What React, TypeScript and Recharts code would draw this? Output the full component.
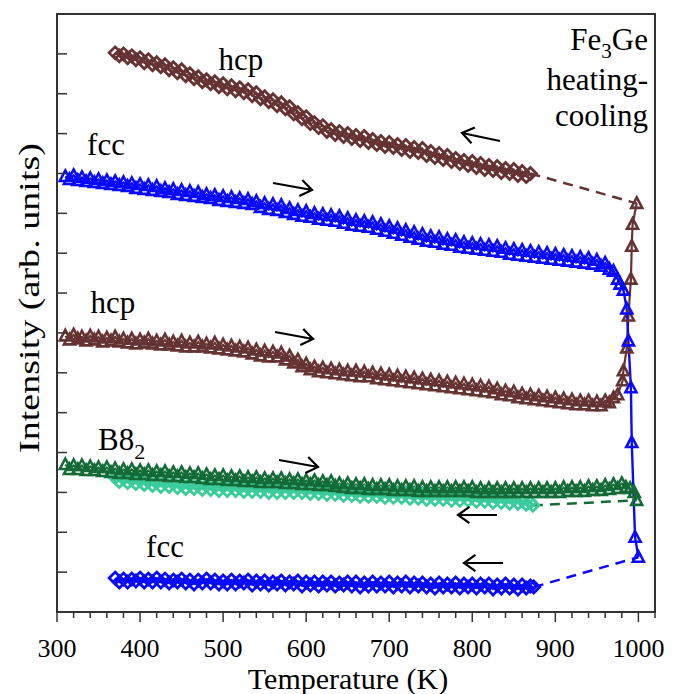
import React from "react";
import { LineChart, Line, XAxis, YAxis, ReferenceArea } from "recharts";

// Fe3Ge heating/cooling, intensity (arb. units) vs temperature (K)
// each entry is [temperature, intensity]

// hcp, cooling (brown diamonds)
const hcpCooling: [number, number][] = [
  [370, 561], [375, 558], [380, 560], [385, 556], [390, 558], [395, 554], [400, 556], [405, 551], [410, 554], [415, 549],
  [420, 551], [425, 547], [430, 549], [435, 544], [440, 546], [445, 541], [450, 544], [455, 538], [460, 540], [465, 535],
  [470, 537], [475, 532], [480, 534], [485, 530], [490, 532], [495, 527], [500, 530], [505, 525], [510, 528], [515, 523],
  [520, 526], [525, 521], [530, 524], [535, 518], [540, 521], [545, 515], [550, 517], [555, 512], [560, 514], [565, 508],
  [570, 511], [575, 505], [580, 507], [585, 500], [590, 501], [595, 495], [600, 497], [605, 490], [610, 491], [615, 486],
  [620, 488], [625, 482], [630, 484], [635, 479], [640, 482], [645, 477], [650, 480], [655, 475], [660, 478], [665, 473],
  [670, 477], [675, 471], [680, 474], [685, 469], [690, 472], [695, 467], [700, 471], [705, 466], [710, 469], [715, 464],
  [720, 468], [725, 462], [730, 466], [735, 461], [740, 465], [745, 458], [750, 462], [755, 456], [760, 460], [765, 454],
  [770, 458], [775, 452], [780, 455], [785, 450], [790, 453], [795, 448], [800, 452], [805, 446], [810, 450], [815, 444],
  [820, 448], [825, 443], [830, 447], [835, 441], [840, 445], [845, 440], [850, 444], [855, 438], [860, 442], [865, 437],
  [870, 440],
];

// fcc, heating (blue triangles)
const fccHeating: [number, number][] = [
  [310, 437], [315, 434], [320, 438], [325, 433], [330, 436], [335, 432], [340, 435], [345, 431], [350, 434], [355, 430],
  [360, 433], [365, 429], [370, 432], [375, 428], [380, 431], [385, 427], [390, 430], [395, 425], [400, 429], [405, 424],
  [410, 428], [415, 423], [420, 427], [425, 422], [430, 425], [435, 421], [440, 424], [445, 419], [450, 423], [455, 418],
  [460, 422], [465, 417], [470, 421], [475, 416], [480, 419], [485, 415], [490, 418], [495, 413], [500, 417], [505, 412],
  [510, 416], [515, 411], [520, 415], [525, 410], [530, 414], [535, 409], [540, 412], [545, 406], [550, 410], [555, 404],
  [560, 409], [565, 403], [570, 408], [575, 401], [580, 405], [585, 399], [590, 403], [595, 397], [600, 402], [605, 396],
  [610, 400], [615, 394], [620, 399], [625, 393], [630, 398], [635, 392], [640, 397], [645, 390], [650, 395], [655, 388],
  [660, 393], [665, 387], [670, 392], [675, 386], [680, 391], [685, 384], [690, 389], [695, 382], [700, 387], [705, 380],
  [710, 385], [715, 378], [720, 383], [725, 376], [730, 381], [735, 374], [740, 379], [745, 372], [750, 377], [755, 371],
  [760, 376], [765, 369], [770, 374], [775, 368], [780, 373], [785, 366], [790, 371], [795, 365], [800, 370], [805, 364],
  [810, 369], [815, 363], [820, 368], [825, 362], [830, 367], [835, 361], [840, 365], [845, 359], [850, 364], [855, 358],
  [860, 363], [865, 357], [870, 362], [875, 356], [880, 361], [885, 355], [890, 360], [895, 354], [900, 359], [905, 353],
  [910, 358], [915, 352], [920, 357], [925, 351], [930, 356], [935, 350], [940, 355], [945, 349], [950, 353], [955, 347],
  [960, 350], [965, 344], [970, 342], [975, 334], [978, 329], [982, 323], [986, 304], [988, 272], [991, 225], [992, 170],
  [996, 75], [1000, 55],
];

// hcp, heating (brown triangles)
const hcpHeating: [number, number][] = [
  [310, 277], [315, 273], [320, 278], [325, 274], [330, 276], [335, 272], [340, 277], [345, 273], [350, 276], [355, 271],
  [360, 275], [365, 272], [370, 276], [375, 271], [380, 274], [385, 270], [390, 274], [395, 269], [400, 273], [405, 270],
  [410, 274], [415, 269], [420, 272], [425, 268], [430, 273], [435, 268], [440, 271], [445, 267], [450, 272], [455, 266],
  [460, 270], [465, 266], [470, 271], [475, 266], [480, 269], [485, 265], [490, 270], [495, 264], [500, 268], [505, 263],
  [510, 267], [515, 262], [520, 266], [525, 261], [530, 265], [535, 259], [540, 263], [545, 257], [550, 262], [555, 256],
  [560, 261], [565, 256], [570, 260], [575, 253], [580, 257], [585, 250], [590, 253], [595, 246], [600, 249], [605, 243],
  [610, 246], [615, 241], [620, 245], [625, 240], [630, 244], [635, 239], [640, 243], [645, 238], [650, 242], [655, 237],
  [660, 242], [665, 236], [670, 241], [675, 236], [680, 240], [685, 234], [690, 239], [695, 233], [700, 238], [705, 232],
  [710, 237], [715, 231], [720, 236], [725, 230], [730, 235], [735, 229], [740, 234], [745, 228], [750, 233], [755, 227],
  [760, 232], [765, 226], [770, 231], [775, 225], [780, 230], [785, 224], [790, 229], [795, 223], [800, 228], [805, 222],
  [810, 227], [815, 221], [820, 226], [825, 220], [830, 224], [835, 218], [840, 222], [845, 217], [850, 221], [855, 215],
  [860, 219], [865, 214], [870, 218], [875, 213], [880, 217], [885, 212], [890, 216], [895, 211], [900, 215], [905, 210],
  [910, 214], [915, 209], [920, 213], [925, 208], [930, 212], [935, 208], [940, 212], [945, 207], [950, 211], [955, 207],
  [960, 212], [965, 210], [970, 215], [975, 218], [981, 232], [982, 242], [986, 265], [988, 297], [991, 334], [992, 367],
  [993, 389], [998, 410],
];

// B8_2, heating (dark green triangles)
const b82Heating: [number, number][] = [
  [310, 148], [315, 143], [320, 147], [325, 143], [330, 147], [335, 142], [340, 146], [345, 142], [350, 145], [355, 141],
  [360, 145], [365, 140], [370, 144], [375, 139], [380, 143], [385, 139], [390, 143], [395, 138], [400, 142], [405, 138],
  [410, 142], [415, 137], [420, 141], [425, 137], [430, 141], [435, 136], [440, 140], [445, 136], [450, 140], [455, 135],
  [460, 139], [465, 135], [470, 139], [475, 134], [480, 138], [485, 133], [490, 137], [495, 133], [500, 137], [505, 132],
  [510, 136], [515, 132], [520, 136], [525, 131], [530, 135], [535, 131], [540, 135], [545, 130], [550, 134], [555, 130],
  [560, 134], [565, 130], [570, 134], [575, 129], [580, 133], [585, 129], [590, 133], [595, 128], [600, 132], [605, 128],
  [610, 132], [615, 127], [620, 131], [625, 127], [630, 131], [635, 126], [640, 129], [645, 125], [650, 129], [655, 124],
  [660, 128], [665, 124], [670, 128], [675, 123], [680, 127], [685, 123], [690, 127], [695, 123], [700, 127], [705, 122],
  [710, 126], [715, 122], [720, 126], [725, 122], [730, 126], [735, 121], [740, 125], [745, 121], [750, 125], [755, 121],
  [760, 125], [765, 121], [770, 125], [775, 121], [780, 125], [785, 121], [790, 125], [795, 121], [800, 125], [805, 120],
  [810, 124], [815, 120], [820, 124], [825, 120], [830, 124], [835, 120], [840, 124], [845, 120], [850, 124], [855, 120],
  [860, 124], [865, 120], [870, 124], [875, 120], [880, 124], [885, 120], [890, 124], [895, 120], [900, 124], [905, 120],
  [910, 125], [915, 121], [920, 125], [925, 121], [930, 125], [935, 121], [940, 126], [945, 122], [950, 126], [955, 122],
  [960, 127], [965, 123], [970, 128], [975, 124], [980, 129], [985, 125], [990, 124], [995, 120], [998, 112],
];

// B8_2, cooling (light green diamonds)
const b82Cooling: [number, number][] = [
  [370, 135], [375, 131], [380, 134], [385, 130], [390, 133], [395, 129], [400, 132], [405, 128], [410, 131], [415, 127],
  [420, 130], [425, 126], [430, 130], [435, 126], [440, 129], [445, 125], [450, 128], [455, 124], [460, 128], [465, 124],
  [470, 127], [475, 123], [480, 127], [485, 123], [490, 126], [495, 122], [500, 126], [505, 122], [510, 126], [515, 122],
  [520, 125], [525, 121], [530, 125], [535, 121], [540, 125], [545, 121], [550, 125], [555, 120], [560, 124], [565, 120],
  [570, 124], [575, 120], [580, 124], [585, 120], [590, 124], [595, 120], [600, 123], [605, 119], [610, 123], [615, 119],
  [620, 122], [625, 118], [630, 122], [635, 118], [640, 121], [645, 117], [650, 121], [655, 117], [660, 120], [665, 116],
  [670, 120], [675, 116], [680, 120], [685, 116], [690, 119], [695, 115], [700, 119], [705, 115], [710, 119], [715, 115],
  [720, 119], [725, 114], [730, 118], [735, 114], [740, 118], [745, 113], [750, 117], [755, 113], [760, 117], [765, 113],
  [770, 117], [775, 112], [780, 116], [785, 112], [790, 116], [795, 112], [800, 116], [805, 111], [810, 115], [815, 111],
  [820, 115], [825, 110], [830, 114], [835, 110], [840, 114], [845, 109], [850, 113], [855, 109], [860, 112], [865, 108],
  [870, 110], [873, 107],
];

// fcc, cooling (blue diamonds)
const fccCooling: [number, number][] = [
  [370, 34], [375, 30], [380, 33], [385, 30], [390, 33], [395, 31], [400, 34], [405, 30], [410, 33], [415, 30],
  [420, 34], [425, 30], [430, 33], [435, 29], [440, 32], [445, 30], [450, 33], [455, 29], [460, 32], [465, 28],
  [470, 32], [475, 29], [480, 33], [485, 29], [490, 32], [495, 28], [500, 31], [505, 28], [510, 32], [515, 28],
  [520, 31], [525, 29], [530, 32], [535, 27], [540, 31], [545, 28], [550, 31], [555, 27], [560, 30], [565, 28],
  [570, 31], [575, 27], [580, 30], [585, 28], [590, 31], [595, 26], [600, 30], [605, 27], [610, 30], [615, 26],
  [620, 30], [625, 27], [630, 30], [635, 26], [640, 29], [645, 27], [650, 30], [655, 26], [660, 30], [665, 25],
  [670, 29], [675, 26], [680, 30], [685, 26], [690, 29], [695, 26], [700, 30], [705, 25], [710, 29], [715, 26],
  [720, 30], [725, 25], [730, 29], [735, 26], [740, 29], [745, 25], [750, 28], [755, 24], [760, 29], [765, 25],
  [770, 28], [775, 25], [780, 29], [785, 24], [790, 28], [795, 25], [800, 28], [805, 24], [810, 28], [815, 25],
  [820, 28], [825, 23], [830, 27], [835, 24], [840, 28], [845, 24], [850, 27], [855, 23], [860, 27], [865, 24],
  [870, 26], [874, 25],
];

const xLabels = [300, 400, 500, 600, 700, 800, 900, 1000];
const xTicks = [
  300, 320, 340, 360, 380, 400, 420, 440, 460, 480, 500, 520, 540, 560, 580, 600, 620, 640, 660, 680,
  700, 720, 740, 760, 780, 800, 820, 840, 860, 880, 900, 920, 940, 960, 980, 1000, 1020,
];
const yTicks = [40, 80, 120, 160, 200, 240, 280, 320, 360, 400, 440, 480, 520, 560];

const BROWN = "#663333";
const BLUE = "#0a0aff";
const DARK_GREEN = "#146b38";
const LIGHT_GREEN = "#3ccc9c";
const AXIS = "#333333";
const FONT = "'Liberation Serif', 'Times New Roman', serif";

const PLOT_LEFT = 57;
const PLOT_BOTTOM = 612;

const toPts = (arr: [number, number][]) => arr.map(([t, v]) => ({ t, v }));
const last = (arr: [number, number][]) => arr[arr.length - 1];

// dashed links from the end of each cooling run back to the last heating point
const hcpLink = toPts([last(hcpCooling), last(hcpHeating)]);
const b82Link = toPts([last(b82Cooling), last(b82Heating)]);
const fccLink = toPts([last(fccCooling), last(fccHeating)]);

// open markers, drawn thick so that the dense runs merge into a band
const triangleDot = (color: string) => (props: any) => {
  const { cx, cy, index } = props;
  if (cx == null || cy == null) return <g key={index} />;
  return (
    <path
      key={index}
      d={`M${cx},${cy - 6} L${cx + 5.5},${cy + 4.5} L${cx - 5.5},${cy + 4.5} Z`}
      fill="none"
      stroke={color}
      strokeWidth={2.6}
      strokeLinejoin="miter"
    />
  );
};

const diamondDot = (color: string) => (props: any) => {
  const { cx, cy, index } = props;
  if (cx == null || cy == null) return <g key={index} />;
  return (
    <path
      key={index}
      d={`M${cx},${cy - 6} L${cx + 6},${cy} L${cx},${cy + 6} L${cx - 6},${cy} Z`}
      fill="none"
      stroke={color}
      strokeWidth={2.8}
    />
  );
};

const XTick = (props: any) => {
  const { x, payload } = props;
  const value = payload.value as number;
  const major = value % 100 === 0;
  return (
    <g>
      <line x1={x} x2={x} y1={PLOT_BOTTOM} y2={PLOT_BOTTOM + (major ? 10 : 6)} stroke={AXIS} strokeWidth={1.5} />
      {xLabels.includes(value) && (
        <text x={x} y={657} textAnchor="middle" fontSize={26} fontFamily={FONT} fill="#000">
          {value}
        </text>
      )}
    </g>
  );
};

const YTick = (props: any) => {
  const { y } = props;
  return <line x1={PLOT_LEFT} x2={PLOT_LEFT + 10} y1={y} y2={y} stroke={AXIS} strokeWidth={1.5} />;
};

// arrow annotation (tail -> tip) in page pixels
function Arrow({ from, to }: { from: [number, number]; to: [number, number] }) {
  const ang = Math.atan2(to[1] - from[1], to[0] - from[0]);
  const len = 14;
  const spread = 0.62;
  const a1: [number, number] = [to[0] - len * Math.cos(ang - spread), to[1] - len * Math.sin(ang - spread)];
  const a2: [number, number] = [to[0] - len * Math.cos(ang + spread), to[1] - len * Math.sin(ang + spread)];
  return (
    <path
      d={`M${from[0]},${from[1]} L${to[0]},${to[1]} M${a1[0]},${a1[1]} L${to[0]},${to[1]} L${a2[0]},${a2[1]}`}
      fill="none"
      stroke="#000"
      strokeWidth={2.2}
    />
  );
}

const arrows: { from: [number, number]; to: [number, number] }[] = [
  { from: [500, 141], to: [462, 133] },
  { from: [273, 183], to: [312, 190] },
  { from: [275, 332], to: [313, 339] },
  { from: [279, 460], to: [318, 467] },
  { from: [497, 515], to: [458, 515] },
  { from: [503, 563], to: [464, 563] },
];

export default function App() {
  const lbl = { fontFamily: FONT, fontSize: 31, fill: "#000" };
  return (
    <div style={{ position: "absolute", left: 0, top: 0, width: 682, height: 694, background: "#fff" }}>
      <LineChart width={682} height={694} margin={{ top: 14, right: 27, bottom: 0, left: 0 }}>
        <XAxis
          dataKey="t"
          type="number"
          domain={[300, 1020]}
          ticks={xTicks}
          interval={0}
          allowDataOverflow
          height={82}
          tickLine={false}
          tick={<XTick />}
          axisLine={{ stroke: AXIS, strokeWidth: 2 }}
        />
        <YAxis
          type="number"
          domain={[0, 600]}
          ticks={yTicks}
          interval={0}
          width={57}
          tickLine={false}
          tick={<YTick />}
          axisLine={{ stroke: AXIS, strokeWidth: 2 }}
        />
        <ReferenceArea x1={300} x2={1020} y1={0} y2={600} fill="none" stroke={AXIS} strokeWidth={2} ifOverflow="visible" />

        <Line data={toPts(hcpCooling)} dataKey="v" stroke={BROWN} strokeWidth={2} dot={diamondDot(BROWN)} isAnimationActive={false} />
        <Line data={toPts(hcpHeating)} dataKey="v" stroke={BROWN} strokeWidth={2.2} dot={triangleDot(BROWN)} isAnimationActive={false} />
        <Line data={toPts(fccHeating)} dataKey="v" stroke={BLUE} strokeWidth={2.4} dot={triangleDot(BLUE)} isAnimationActive={false} />
        <Line data={toPts(b82Cooling)} dataKey="v" stroke={LIGHT_GREEN} strokeWidth={2} dot={diamondDot(LIGHT_GREEN)} isAnimationActive={false} />
        <Line data={toPts(b82Heating)} dataKey="v" stroke={DARK_GREEN} strokeWidth={2} dot={triangleDot(DARK_GREEN)} isAnimationActive={false} />
        <Line data={toPts(fccCooling)} dataKey="v" stroke={BLUE} strokeWidth={2} dot={diamondDot(BLUE)} isAnimationActive={false} />

        <Line data={hcpLink} dataKey="v" stroke={BROWN} strokeWidth={2.5} strokeDasharray="10 7" dot={false} isAnimationActive={false} />
        <Line data={b82Link} dataKey="v" stroke={DARK_GREEN} strokeWidth={2.5} strokeDasharray="10 7" dot={false} isAnimationActive={false} />
        <Line data={fccLink} dataKey="v" stroke={BLUE} strokeWidth={2.5} strokeDasharray="10 7" dot={false} isAnimationActive={false} />
      </LineChart>

      <svg width={682} height={694} style={{ position: "absolute", left: 0, top: 0, pointerEvents: "none" }}>
        <text {...lbl} x={241} y={70} textAnchor="middle">hcp</text>
        <text {...lbl} x={106} y={155} textAnchor="middle">fcc</text>
        <text {...lbl} x={113} y={313} textAnchor="middle">hcp</text>
        <text {...lbl} x={98} y={450}>
          B8<tspan fontSize={22} dy={9}>2</tspan>
        </text>
        <text {...lbl} x={165} y={557} textAnchor="middle">fcc</text>

        <text {...lbl} x={648} y={50} textAnchor="end">
          Fe<tspan fontSize={21} dy={8}>3</tspan>
          <tspan dy={-8}>Ge</tspan>
        </text>
        <text {...lbl} x={648} y={90} textAnchor="end">heating-</text>
        <text {...lbl} x={648} y={126} textAnchor="end">cooling</text>

        {arrows.map((a, i) => (
          <Arrow key={i} from={a.from} to={a.to} />
        ))}

        <text x={348} y={689} textAnchor="middle" fontFamily={FONT} fontSize={30} fill="#000">
          Temperature (K)
        </text>
        <text
          transform="translate(39,298) rotate(-90)"
          textAnchor="middle"
          fontFamily={FONT}
          fontSize={30}
          fill="#000"
          textLength={310}
          lengthAdjust="spacingAndGlyphs"
        >
          Intensity (arb. units)
        </text>
      </svg>
    </div>
  );
}
